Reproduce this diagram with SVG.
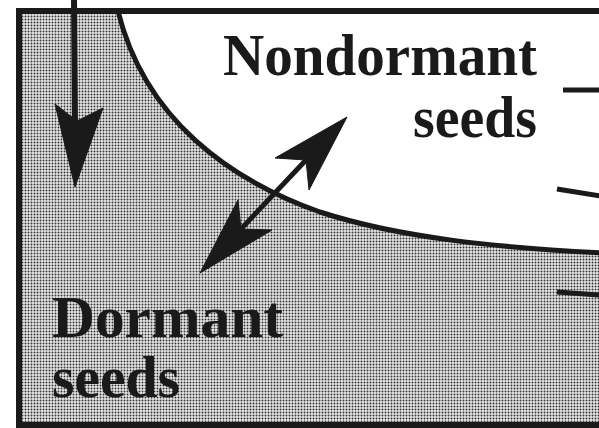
<svg xmlns="http://www.w3.org/2000/svg" width="599" height="428" viewBox="0 0 599 428">
  <defs>
    <pattern id="stipple" width="3" height="3" patternUnits="userSpaceOnUse">
      <rect width="3" height="3" fill="#e6e6e6"/>
      <circle cx="1.5" cy="1.5" r="0.95" fill="#333"/>
    </pattern>
    <style>
      .lbl { font-family: "Liberation Serif", "Times New Roman", serif; font-weight: bold; font-size: 60px; fill: #1a1a1a; }
      .edge { stroke: #1a1a1a; fill: none; }
      .head { fill: #1a1a1a; stroke: #1a1a1a; stroke-width: 1; stroke-linejoin: round; }
    </style>
  </defs>
  <rect width="599" height="428" fill="#ffffff"/>

  <g id="dormant">
    <rect x="19" y="11" width="590" height="414" fill="url(#stipple)"/>
    <text class="lbl" x="52" y="337" textLength="231" lengthAdjust="spacingAndGlyphs">Dormant</text>
    <text class="lbl" x="52" y="397" textLength="128" lengthAdjust="spacingAndGlyphs">seeds</text>
  </g>

  <g id="nondormant">
    <path d="M118,11 C145,120 230,180 320,212 C400,238 500,248 605,253 L605,11 Z" fill="#ffffff"/>
    <path class="edge" d="M118,11 C145,120 230,180 320,212 C400,238 500,248 605,253" stroke-width="5"/>
    <text class="lbl" x="223" y="75" textLength="314" lengthAdjust="spacingAndGlyphs">Nondormant</text>
    <text class="lbl" x="413" y="137" textLength="124" lengthAdjust="spacingAndGlyphs">seeds</text>
  </g>

  <g id="frame">
    <path class="edge" d="M606,11 L19,11 L19,425 L606,425" stroke-width="6"/>
  </g>

  <g id="connectors">
    <line class="edge" x1="74" y1="-2" x2="75" y2="125" stroke-width="6"/>
    <polygon class="head" points="75,187 55,104 77,121 103,108"/>
    <line class="edge" x1="241" y1="229" x2="306" y2="160" stroke-width="5"/>
    <polygon class="head" points="347,117 309,190 306,160 275,158"/>
    <polygon class="head" points="200,273 238,200 241,229 272,230"/>
    <line class="edge" x1="563" y1="90" x2="600" y2="90" stroke-width="5"/>
    <line class="edge" x1="557" y1="189" x2="600" y2="196" stroke-width="5"/>
    <line class="edge" x1="557" y1="292" x2="600" y2="295" stroke-width="5"/>
  </g>
</svg>
